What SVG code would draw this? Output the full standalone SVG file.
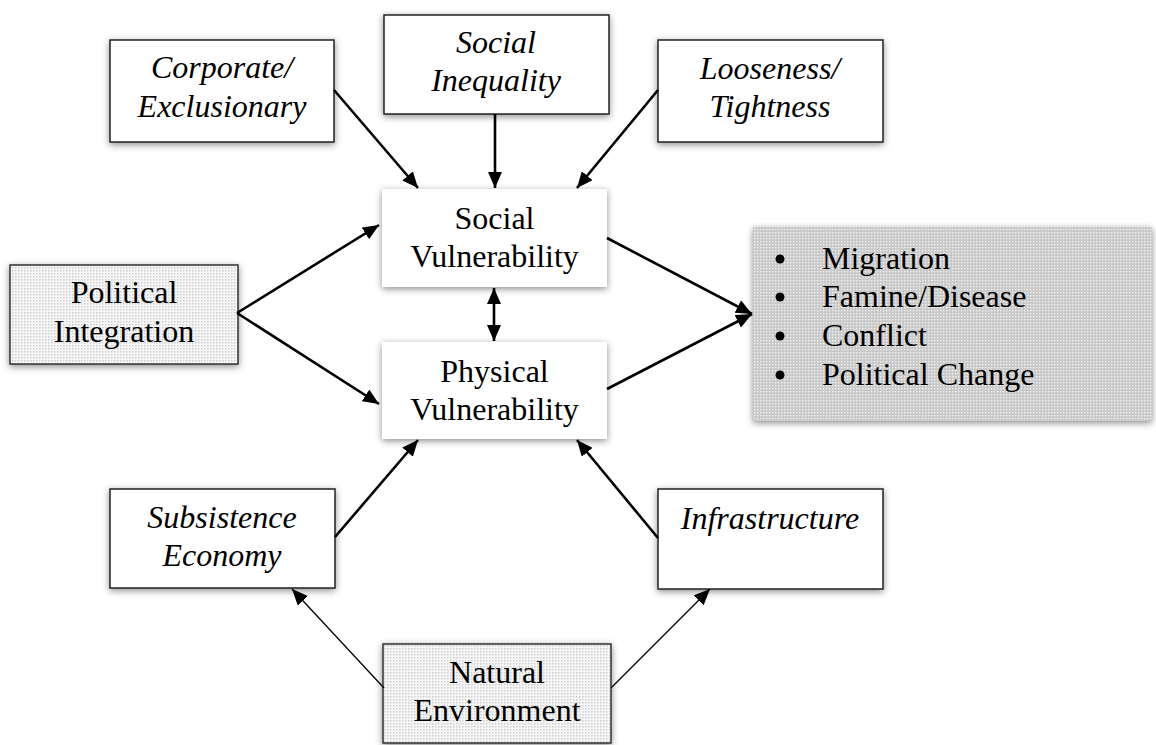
<svg xmlns="http://www.w3.org/2000/svg" width="1156" height="745" viewBox="0 0 1156 745" font-family="'Liberation Serif', 'Times New Roman', 'DejaVu Serif', serif">
  <style>
    text { font-family: 'Liberation Serif', 'Times New Roman', 'DejaVu Serif', serif; }
    .t { font-size: 32px; fill: #000; text-anchor: middle; }
    .i { font-style: italic; }
    .l { text-anchor: start; }
    .box { fill: #fff; stroke: #222; stroke-width: 1.5; filter: url(#sh); }
    .plain { fill: #fff; stroke: none; filter: url(#sh); }
    .dots { fill: url(#lightDots); stroke: #333; stroke-width: 1.5; filter: url(#sh); }
    .c { stroke: #000; stroke-width: 2.6; fill: none; marker-end: url(#ah); }
    .thin { stroke: #000; stroke-width: 1.3; fill: none; marker-end: url(#ah); }
  </style>
  <defs>
    <filter id="sh" x="-10%" y="-15%" width="120%" height="135%">
      <feDropShadow dx="0" dy="2" stdDeviation="3.5" flood-color="#000" flood-opacity="0.45"/>
    </filter>
    <pattern id="lightDots" width="3" height="3" patternUnits="userSpaceOnUse">
      <rect width="3" height="3" fill="#f6f6f6"/>
      <rect width="1.5" height="1.5" fill="#cfcfcf"/>
    </pattern>
    <pattern id="darkDots" width="3" height="3" patternUnits="userSpaceOnUse">
      <rect width="3" height="3" fill="#c9c9c9"/>
      <rect x="1" y="1" width="1.3" height="1.3" fill="#f4f4f4"/>
    </pattern>
    <marker id="ah" viewBox="0 0 16 14" refX="16" refY="7" markerWidth="16" markerHeight="14" markerUnits="userSpaceOnUse" orient="auto-start-reverse">
      <path d="M0,0 L16,7 L0,14 z" fill="#000"/>
    </marker>
  </defs>

  <g id="corporate">
    <rect class="box" x="110" y="40" width="224" height="102"/>
    <text class="t i" x="222" y="78">Corporate/</text>
    <text class="t i" x="222" y="117">Exclusionary</text>
  </g>
  <g id="social-inequality">
    <rect class="box" x="384" y="15" width="225" height="99"/>
    <text class="t i" x="496" y="53">Social</text>
    <text class="t i" x="496" y="91">Inequality</text>
  </g>
  <g id="looseness">
    <rect class="box" x="658" y="40" width="225" height="102"/>
    <text class="t i" x="770" y="79">Looseness/</text>
    <text class="t i" x="770" y="117">Tightness</text>
  </g>
  <g id="social-vulnerability">
    <rect class="plain" x="382" y="189" width="225" height="98"/>
    <text class="t" x="494.5" y="229">Social</text>
    <text class="t" x="494.5" y="267">Vulnerability</text>
  </g>
  <g id="physical-vulnerability">
    <rect class="plain" x="382" y="342" width="225" height="97"/>
    <text class="t" x="494.5" y="382">Physical</text>
    <text class="t" x="494.5" y="420">Vulnerability</text>
  </g>
  <g id="political-integration">
    <rect class="dots" x="10" y="265" width="228" height="99"/>
    <text class="t" x="124" y="303">Political</text>
    <text class="t" x="124" y="342">Integration</text>
  </g>
  <g id="outcomes">
    <rect x="753" y="227" width="399" height="194" fill="url(#darkDots)" filter="url(#sh)"/>
    <circle cx="780" cy="259" r="4.5" fill="#000"/>
    <circle cx="780" cy="297" r="4.5" fill="#000"/>
    <circle cx="780" cy="336" r="4.5" fill="#000"/>
    <circle cx="780" cy="375" r="4.5" fill="#000"/>
    <text class="t l" x="822" y="269">Migration</text>
    <text class="t l" x="822" y="307">Famine/Disease</text>
    <text class="t l" x="822" y="346">Conflict</text>
    <text class="t l" x="822" y="385">Political Change</text>
  </g>
  <g id="subsistence">
    <rect class="box" x="110" y="489" width="225" height="99"/>
    <text class="t i" x="222" y="528">Subsistence</text>
    <text class="t i" x="222" y="566">Economy</text>
  </g>
  <g id="infrastructure">
    <rect class="box" x="658" y="489" width="225" height="100"/>
    <text class="t i" x="770" y="529">Infrastructure</text>
  </g>
  <g id="natural-environment">
    <rect class="dots" x="383" y="644" width="228" height="99"/>
    <text class="t" x="497" y="683">Natural</text>
    <text class="t" x="497" y="721">Environment</text>
  </g>

  <g id="connectors">
    <line class="c" x1="334" y1="90" x2="418" y2="188"/>
    <line class="c" x1="495" y1="114" x2="495" y2="188"/>
    <line class="c" x1="658" y1="90" x2="577" y2="188"/>
    <line class="c" x1="494" y1="288" x2="494" y2="341" marker-start="url(#ah)"/>
    <line class="c" x1="237" y1="313" x2="379" y2="225"/>
    <line class="c" x1="237" y1="313" x2="379" y2="404"/>
    <line class="c" x1="607" y1="238" x2="752" y2="314"/>
    <line class="c" x1="607" y1="389" x2="752" y2="314"/>
    <line class="c" x1="335" y1="537" x2="418" y2="440"/>
    <line class="c" x1="658" y1="538" x2="577" y2="440"/>
    <line class="thin" x1="384" y1="688" x2="292" y2="589"/>
    <line class="thin" x1="611" y1="688" x2="710" y2="589"/>
  </g>
</svg>
